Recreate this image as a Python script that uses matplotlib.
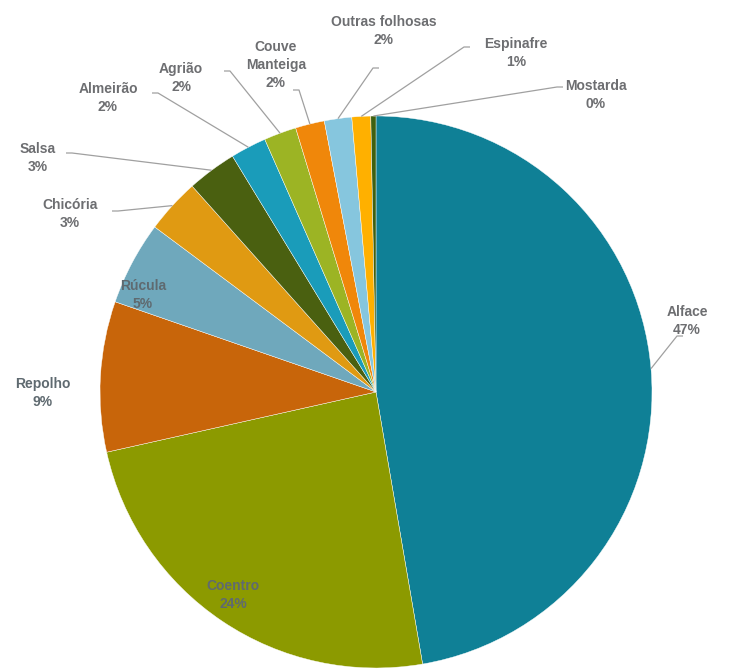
import numpy as np
import matplotlib.pyplot as plt

plt.rcParams['font.family'] = ['Liberation Sans', 'DejaVu Sans']

# folhosas - participação (%)
nomes = ['Alface', 'Coentro', 'Repolho', 'Rúcula', 'Chicória', 'Salsa',
         'Almeirão', 'Agrião', 'Couve\nManteiga', 'Outras folhosas',
         'Espinafre', 'Mostarda']
valores = [47.3, 24.2, 8.8, 4.9, 3.2, 2.9, 2.1, 1.9, 1.7, 1.6, 1.1, 0.3]
cores = ['#0f8096', '#8c9a00', '#c8650a', '#6fa8bc', '#e09a12', '#4a6010',
         '#1a9cba', '#9cb424', '#f0870a', '#86c6de', '#ffb000', '#3f6010']

# posição dos rótulos (px na figura) e ponta da linha de chamada
pos_rotulo = [(687, 321), (233, 595), (43, 393), (143, 295), (70, 214),
              (38, 158), (108, 98), (181, 78), (276, 65), (384, 31),
              (516, 53), (596, 95)]
ponta = [(683, 336), None, None, None, (112, 211), (66, 153), (152, 93),
         (224, 71), (293, 90), (379, 68), (470, 47), (563, 87)]

W, H = 731, 670
cx, cy, R = 376, 392, 276


def px(x, y):
    return (x - cx) / R, (cy - y) / R


fig = plt.figure(figsize=(W / 100, H / 100), dpi=100)
ax = fig.add_axes([0, 0, 1, 1])

wedges, _ = ax.pie(valores, colors=cores, startangle=90, counterclock=False,
                   radius=1, wedgeprops=dict(edgecolor='white', linewidth=0.3))

cinza = '#6d6e71'
for w, nome, v, (lx, ly), p in zip(wedges, nomes, valores, pos_rotulo, ponta):
    cor_txt = '#5f6a70' if p is None else cinza
    ax.text(*px(lx, ly), f'{nome}\n{v:.0f}%', ha='center', va='center',
            fontsize=10, fontweight='bold', color=cor_txt, linespacing=1.35)
    if p is None:
        continue
    ang = np.deg2rad((w.theta1 + w.theta2) / 2)
    ex, ey = np.cos(ang), np.sin(ang)
    tx, ty = px(*p)
    sx = tx + (6 / R if tx < ex else -6 / R)
    ax.plot([ex, sx, tx], [ey, ty, ty], color='#a0a0a0', lw=0.9,
            solid_capstyle='butt')

ax.set_xlim(-cx / R, (W - cx) / R)
ax.set_ylim((cy - H) / R, cy / R)
ax.set_aspect('equal')
ax.axis('off')

fig.savefig('out.png', dpi=100)
